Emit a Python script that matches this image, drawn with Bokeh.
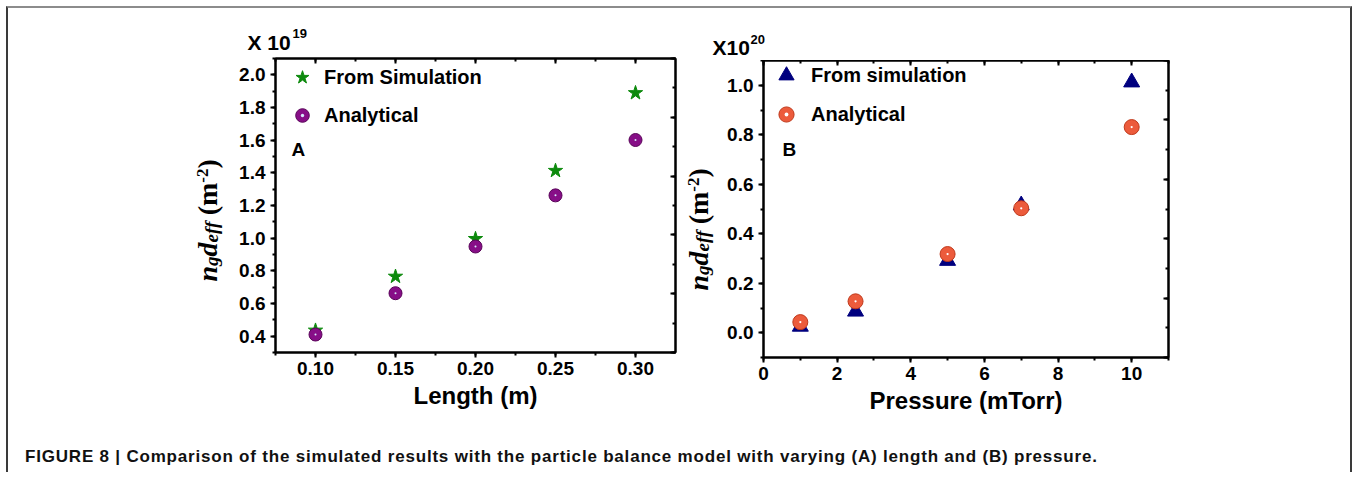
import math
from bokeh.plotting import figure
from bokeh.models import (Range1d, LinearAxis, SingleIntervalTicker, Label, Legend,
                          LegendItem, PrintfTickFormatter, Div)
from bokeh.layouts import row, column
from bokeh.embed import file_html
from bokeh.resources import INLINE

# ---------------- data ----------------
length_m = [0.10, 0.15, 0.20, 0.25, 0.30]
sim_A = [0.435, 0.765, 0.996, 1.413, 1.889]   # x 1e19 m^-2
ana_A = [0.410, 0.663, 0.949, 1.262, 1.601]

pressure_mtorr = [1, 2.5, 5, 7, 10]
sim_B = [0.025, 0.086, 0.291, 0.515, 1.012]   # x 1e20 m^-2
ana_B = [0.043, 0.127, 0.318, 0.503, 0.831]

caption = ("FIGURE 8 | Comparison of the simulated results with the particle balance "
           "model with varying (A) length and (B) pressure.")

SANS = "Liberation Sans"
SERIF = "Liberation Serif"
GREEN = "#0d8a0d"
PURPLE = "#870e87"
PURPLE_EDGE = "#5a055a"
NAVY = "#00007f"
ORANGE = "#ec5b3c"
ORANGE_EDGE = "#c03a1c"


def hidden_labels(ax):
    ax.major_label_text_font_size = "0px"
    ax.major_label_text_color = None
    ax.major_label_standoff = 0
    ax.axis_label = None


def style_axis(ax, out=True):
    ax.axis_line_width = 2
    ax.axis_line_color = "black"
    ax.major_tick_line_width = 2
    ax.minor_tick_line_width = 2
    if out:
        ax.major_tick_out, ax.major_tick_in = 5, 0
        ax.minor_tick_out, ax.minor_tick_in = 3, 0
    else:
        ax.major_tick_out, ax.major_tick_in = 0, 5
        ax.minor_tick_out, ax.minor_tick_in = 0, 3
    ax.major_label_text_font = SANS
    ax.major_label_text_font_style = "bold"
    ax.major_label_text_font_size = "19px"
    ax.major_label_text_color = "black"
    ax.axis_label_text_font = SANS
    ax.axis_label_text_font_style = "bold"
    ax.axis_label_text_font_size = "24px"
    ax.axis_label_text_color = "black"


def make_panel(xr, yr, xint, yint, xfmt, yfmt, xlabel, bl, fw, br, bt, fh, bb):
    p = figure(output_backend="svg", toolbar_location=None,
               x_range=Range1d(*xr), y_range=Range1d(*yr),
               frame_width=fw, frame_height=fh,
               min_border_left=bl, min_border_right=br,
               min_border_top=bt, min_border_bottom=bb,
               x_axis_type=None, y_axis_type=None)
    p.outline_line_color = "black"
    p.outline_line_width = 2
    p.background_fill_color = "white"
    p.border_fill_color = "white"

    bottom = LinearAxis(ticker=SingleIntervalTicker(interval=xint, num_minor_ticks=2),
                        formatter=PrintfTickFormatter(format=xfmt), axis_label=xlabel)
    style_axis(bottom, out=True)
    bottom.major_label_standoff = 4
    bottom.axis_label_standoff = 4
    p.add_layout(bottom, "below")

    left = LinearAxis(ticker=SingleIntervalTicker(interval=yint, num_minor_ticks=2),
                      formatter=PrintfTickFormatter(format=yfmt))
    style_axis(left, out=True)
    left.major_label_standoff = 5
    p.add_layout(left, "left")

    top = LinearAxis(ticker=SingleIntervalTicker(interval=xint, num_minor_ticks=2))
    style_axis(top, out=False)
    hidden_labels(top)
    p.add_layout(top, "above")

    p.extra_y_ranges = {"r": Range1d(0, 5)}
    right = LinearAxis(y_range_name="r",
                       ticker=SingleIntervalTicker(interval=1, num_minor_ticks=2))
    style_axis(right, out=False)
    hidden_labels(right)
    p.add_layout(right, "right")
    return p


def text_fig(w, h):
    f = figure(output_backend="svg", toolbar_location=None, width=w, height=h,
               x_axis_type=None, y_axis_type=None, min_border=0)
    f.outline_line_color = None
    f.background_fill_color = "white"
    f.border_fill_color = "white"
    return f


def add_text(p, x, y, text, size, style="bold", font=SANS, angle=0.0):
    p.add_layout(Label(x=x, y=y, x_units="screen", y_units="screen", text=text,
                       text_font=font, text_font_size=f"{size}px",
                       text_font_style=style, text_color="black",
                       text_align="left", text_baseline="alphabetic", angle=angle))


def add_ylabel(p, x0, y0):
    # n_g d_eff (m^-2), rotated 90 deg, built from pieces along the baseline
    pieces = [("n", 28, 0, "bold italic", 0.556, 0.0),
              ("g", 19, 4, "bold italic", 0.50, 0.0),
              ("d", 28, 0, "bold italic", 0.50, 0.0),
              ("eff", 19, 4, "bold italic", 1.11, 0.0),
              ("(m", 28, 0, "bold", 1.166, 6.0),
              ("-2", 17, -5, "bold", 0.833, 0.0),
              (")", 28, 0, "bold", 0.333, 0.0)]
    cur = 0.0
    for txt, sz, dx, st, adv, gap in pieces:
        cur += gap
        add_text(p, x0 + dx, y0 + cur, txt, sz, style=st, font=SERIF, angle=math.pi / 2)
        cur += adv * sz


def add_legend(p, items, vx, vy, g, spacing, standoff):
    lg = Legend(items=items, location=(vx, vy), orientation="vertical",
                glyph_width=g, glyph_height=g, label_standoff=standoff,
                spacing=spacing, padding=0, margin=0,
                border_line_color=None, background_fill_alpha=0,
                label_text_font=SANS, label_text_font_size="20px",
                label_text_font_style="bold", label_text_color="black")
    p.add_layout(lg)


# ---------------- panel A ----------------
pA = make_panel((0.075, 0.325), (0.3, 2.1), 0.05, 0.2, "%.2f", "%.1f", "Length (m)",
                40, 400, 5, 2, 294, 80)
rA1 = pA.scatter(length_m, sim_A, marker="star", size=15,
                 fill_color=GREEN, line_color=GREEN)
rA2 = pA.scatter(length_m, ana_A, marker="circle", size=13,
                 fill_color=PURPLE, line_color=PURPLE_EDGE, line_width=1)
rA3 = pA.scatter(length_m, ana_A, marker="dot", size=8, line_color="#d6e8fa")
add_legend(pA, [LegendItem(label="From Simulation", renderers=[rA1]),
                LegendItem(label="Analytical", renderers=[rA2, rA3])],
           10, 220, 34, 4, 5)
add_text(pA, 16, 203, "A", 19)

xA = text_fig(672, 48)          # "X 10^19" strip above panel A
add_text(xA, 239, 14, "X 10", 21)
add_text(xA, 284, 23, "19", 13)

yA = text_fig(227, 376)         # y-axis title of panel A
add_ylabel(yA, 199, 71)

# ---------------- panel B ----------------
pB = make_panel((0, 11), (-0.1, 1.1), 2, 0.2, "%d", "%.1f", "Pressure (mTorr)",
                41, 405, 182, 0, 297, 75)
rB1 = pB.scatter(pressure_mtorr, sim_B, marker="triangle", size=16,
                 fill_color=NAVY, line_color=NAVY)
rB2 = pB.scatter(pressure_mtorr, ana_B, marker="circle", size=15,
                 fill_color=ORANGE, line_color=ORANGE_EDGE, line_width=1)
rB3 = pB.scatter(pressure_mtorr, ana_B, marker="dot", size=9, line_color="#ffffff")
add_legend(pB, [LegendItem(label="From simulation", renderers=[rB1]),
                LegendItem(label="Analytical", renderers=[rB2, rB3])],
           4, 224, 38, 1, 6)
add_text(pB, 19, 208, "B", 19)

xB = text_fig(670, 52)          # "X10^20" strip above panel B
add_text(xB, 32, 13, "X10", 21)
add_text(xB, 70, 21, "20", 13)

yB = text_fig(42, 372)          # y-axis title of panel B
add_ylabel(yB, 18, 67)

colA = column(xA, row(yA, pA))
colB = column(xB, row(yB, pB))

cap = Div(text=caption, width=1300, height=24, margin=(16, 0, 0, 17),
          styles={"font-family": SANS, "font-size": "17px", "font-weight": "bold",
                  "letter-spacing": "0.8px", "line-height": "17px",
                  "color": "#111111", "white-space": "nowrap"})

layout = column(row(colA, colB), cap, margin=(6, 0, 0, 6),
                styles={"border-top": "2px solid #8c8c8c",
                        "border-left": "2px solid #3a3a3a",
                        "border-right": "2px solid #3a3a3a"})

open("out.html", "w").write(file_html(layout, INLINE))
